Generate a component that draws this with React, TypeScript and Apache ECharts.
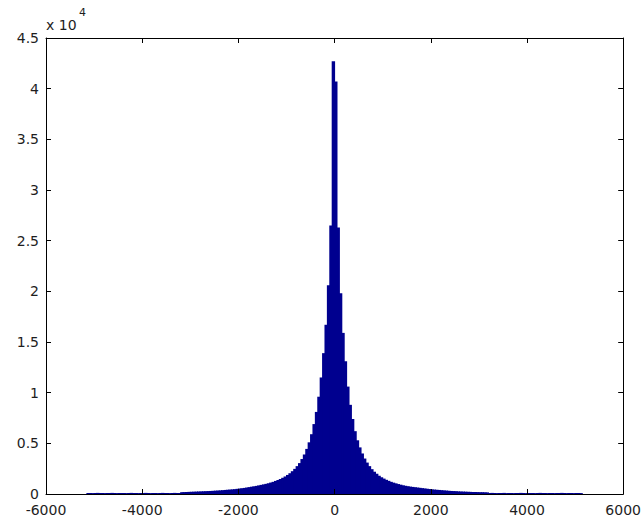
import React, { useEffect, useRef } from "react";
import * as echarts from "echarts";

// Histogram bin width (data units); bins touch each other, edges at multiples of it
const binWidth = 50;

// Counts for bins to the right of 0, ordered outward: [0,50], [50,100], ...
const posBinCounts = [
  40700, 26300, 19800, 15900, 13100, 10600, 8800, 7400, 6200, 5300,
  4600, 4000, 3500, 3100, 2750, 2450, 2200, 2000, 1800, 1650,
  1520, 1400, 1300, 1200, 1120, 1050, 980, 920, 860, 810,
  770, 730, 700, 670, 640, 610, 580, 550, 520, 490,
  460, 440, 420, 400, 380, 360, 340, 320, 300, 290,
  280, 260, 250, 240, 230, 220, 210, 200, 200, 190,
  180, 180, 170, 160,
  100, 110, 100, 90, 100, 100, 110, 90, 100, 100,
  90, 100, 100, 110, 100, 90, 100, 100, 100, 90,
  100, 110, 100, 100, 90, 100, 100, 90, 100, 100,
  110, 100, 90, 100, 100, 90, 100, 100, 90,
];

// Counts for bins to the left of 0, ordered outward: [-50,0], [-100,-50], ...
const negBinCounts = [
  42700, 26500, 20600, 16700, 13900, 11500, 9600, 8100, 6900, 5900,
  5100, 4450, 3900, 3450, 3050, 2750, 2480, 2250, 2050, 1880,
  1730, 1600, 1480, 1380, 1290, 1200, 1130, 1060, 1000, 950,
  900, 850, 800, 760, 720, 680, 640, 600, 570, 540,
  510, 480, 460, 440, 420, 400, 380, 360, 345, 330,
  315, 300, 290, 280, 270, 260, 250, 240, 230, 220,
  210, 200, 190, 180,
  100, 100, 110, 100, 90, 100, 100, 110, 100, 90,
  100, 100, 90, 100, 110, 100, 100, 90, 100, 100,
  110, 100, 90, 100, 100, 100, 90, 100, 110, 100,
  100, 90, 100, 100, 110, 100, 90, 100, 100,
];

const xMin = -6000;
const xMax = 6000;
const xStep = 2000;
const yMin = 0;
const yMax = 45000;
const yStep = 5000;
const yScale = 10000; // labels shown in units of 10^4
const scaleBase = "x 10";
const scaleExp = "4";

const FONT = "DejaVu Sans";
const TEXT = "#1e1e1e";
const BAR = "#00008f";

export default function App() {
  const ref = useRef<HTMLDivElement>(null);

  useEffect(() => {
    if (!ref.current) return;
    const chart = echarts.init(ref.current, null, { renderer: "svg" });

    const data: number[][] = [];
    for (let i = negBinCounts.length - 1; i >= 0; i--) {
      data.push([-(i + 1) * binWidth, -i * binWidth, negBinCounts[i]]);
    }
    posBinCounts.forEach((c, j) => {
      data.push([j * binWidth, (j + 1) * binWidth, c]);
    });

    const line = { show: true, onZero: false, lineStyle: { color: "#000", width: 1 } };
    const tick = { show: true, inside: true, length: 5, lineStyle: { color: "#000", width: 1 } };

    chart.setOption({
      animation: false,
      backgroundColor: "#ffffff",
      grid: { left: 46, right: 19, top: 38, bottom: 27, containLabel: false },
      xAxis: [
        {
          type: "value",
          position: "bottom",
          min: xMin,
          max: xMax,
          interval: xStep,
          z: 5,
          axisLine: line,
          axisTick: tick,
          splitLine: { show: false },
          axisLabel: {
            show: true,
            margin: 9,
            lineHeight: 14,
            color: TEXT,
            fontFamily: FONT,
            fontSize: 14,
            showMinLabel: true,
            showMaxLabel: true,
            formatter: (v: number) => String(v),
          },
        },
        {
          type: "value",
          position: "top",
          min: xMin,
          max: xMax,
          interval: xStep,
          z: 5,
          axisLine: line,
          axisTick: tick,
          splitLine: { show: false },
          axisLabel: { show: false },
        },
      ],
      yAxis: [
        {
          type: "value",
          position: "left",
          min: yMin,
          max: yMax,
          interval: yStep,
          z: 5,
          axisLine: line,
          axisTick: tick,
          splitLine: { show: false },
          axisLabel: {
            show: true,
            margin: 7,
            lineHeight: 12,
            color: TEXT,
            fontFamily: FONT,
            fontSize: 14,
            showMinLabel: true,
            showMaxLabel: true,
            formatter: (v: number) => String(Math.round((v / yScale) * 10) / 10),
          },
        },
        {
          type: "value",
          position: "right",
          min: yMin,
          max: yMax,
          interval: yStep,
          z: 5,
          axisLine: line,
          axisTick: tick,
          splitLine: { show: false },
          axisLabel: { show: false },
        },
      ],
      series: [
        {
          type: "custom",
          xAxisIndex: 0,
          yAxisIndex: 0,
          z: 2,
          data,
          encode: { x: [0, 1], y: 2 },
          renderItem: (params: any, api: any) => {
            const p0 = api.coord([api.value(0), api.value(2)]);
            const p1 = api.coord([api.value(1), 0]);
            return {
              type: "rect",
              shape: {
                x: p0[0] - 0.5,
                y: p0[1],
                width: p1[0] - p0[0] + 1,
                height: p1[1] - p0[1],
              },
              style: { fill: BAR },
            };
          },
        },
      ],
      graphic: [
        {
          type: "text",
          left: 46,
          top: 18,
          style: { text: scaleBase, fill: TEXT, font: `14px "${FONT}"` },
        },
        {
          type: "text",
          left: 79,
          top: 7,
          style: { text: scaleExp, fill: TEXT, font: `11px "${FONT}"` },
        },
      ],
    });

    return () => chart.dispose();
  }, []);

  return (
    <div
      ref={ref}
      style={{ position: "fixed", left: 0, top: 0, width: 644, height: 521, background: "#fff" }}
    />
  );
}
